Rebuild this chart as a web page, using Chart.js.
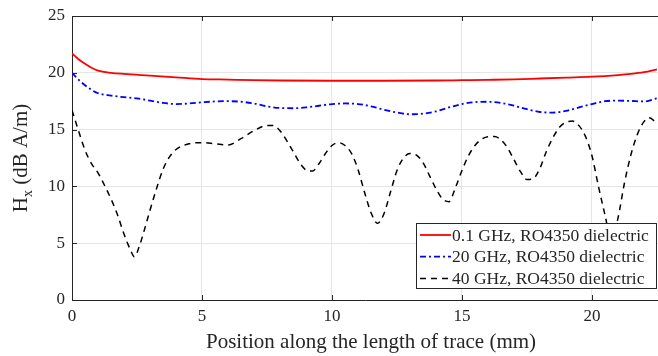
<!DOCTYPE html>
<html>
<head>
<meta charset="utf-8">
<script src="https://cdn.jsdelivr.net/npm/chart.js@4/dist/chart.umd.min.js"></script>
<style>
html,body{margin:0;padding:0;background:#fff;}
#wrap{width:658px;height:356px;position:relative;}
</style>
</head>
<body>
<div id="wrap"><canvas id="c" width="658" height="356"></canvas></div>
<script>
const seriesLabels = ["0.1 GHz, RO4350 dielectric", "20 GHz, RO4350 dielectric", "40 GHz, RO4350 dielectric"];
const xTitle = "Position along the length of trace (mm)";
const xTickValues = [0, 5, 10, 15, 20];
const yTickValues = [0, 5, 10, 15, 20, 25];

const xRed = [0,0.25,0.5,0.75,1,1.5,2,3,4,5,6,7,8,10,12,14,15,16,17,18,19,20,21,21.5,22,22.5];
const yRed = [21.7,21.2,20.8,20.45,20.2,20.0,19.9,19.75,19.6,19.45,19.4,19.35,19.32,19.3,19.3,19.32,19.35,19.38,19.42,19.5,19.58,19.66,19.8,19.9,20.05,20.3];

const xBlue = [0,0.25,0.5,0.75,1,1.5,2,2.5,3,3.5,4,4.5,5,5.5,6,6.5,7,7.5,8,8.5,9,9.5,10,10.5,11,11.5,12,12.5,13,13.5,14,14.5,15,15.5,16,16.5,17,17.5,18,18.5,19,19.5,20,20.5,21,21.5,22,22.5];
const yBlue = [20.0,19.4,18.9,18.5,18.2,18.0,17.85,17.75,17.55,17.35,17.25,17.3,17.4,17.48,17.5,17.45,17.3,17.05,16.9,16.88,16.95,17.1,17.25,17.3,17.25,17.05,16.75,16.5,16.35,16.4,16.6,16.95,17.25,17.42,17.45,17.35,17.1,16.8,16.55,16.5,16.65,16.95,17.25,17.5,17.55,17.52,17.48,17.75];

const xBlack = [0,0.25,0.5,0.75,1,1.25,1.5,1.75,2,2.25,2.4,2.6,2.8,3,3.25,3.5,3.75,4,4.5,5,5.5,6,6.5,7,7.5,7.75,8,8.5,8.75,9,9.25,9.5,9.75,10,10.25,10.5,10.75,11,11.25,11.5,11.75,12,12.25,12.5,12.75,13,13.25,13.5,13.75,14,14.25,14.5,14.75,15,15.25,15.5,15.75,16,16.25,16.5,16.75,17,17.25,17.5,17.75,18,18.25,18.5,18.75,19,19.25,19.5,19.75,20,20.25,20.5,20.75,21,21.25,21.5,21.75,22,22.2,22.5];
const yBlack = [16.7,14.9,13.2,12.0,11.2,10.1,8.9,7.5,5.8,4.4,3.8,4.8,6.3,7.9,9.8,11.5,12.6,13.25,13.75,13.85,13.75,13.65,14.2,14.9,15.35,15.35,14.9,13.1,12.1,11.45,11.35,12.0,12.9,13.6,13.85,13.6,12.9,11.5,9.5,7.7,6.75,7.6,9.5,11.4,12.5,12.9,12.75,12.1,10.95,9.8,8.9,8.65,9.9,11.4,12.7,13.6,14.15,14.38,14.4,14.1,13.4,12.35,11.3,10.6,10.7,11.6,13.1,14.3,15.2,15.65,15.75,15.35,14.4,12.7,10.0,7.5,5.2,7.2,10.3,12.8,14.6,15.7,16.05,15.55];

function pts(xs, ys){ return xs.map((x,i)=>({x:x, y:ys[i]})); }

const FONT = "'Liberation Serif', 'Times New Roman', serif";
const AXC = '#262626';

const framePlugin = {
  id: 'frame',
  afterDraw(chart){
    const ctx = chart.ctx, a = chart.chartArea;
    const xs = chart.scales.x, ys = chart.scales.y;
    ctx.save();
    ctx.strokeStyle = AXC; ctx.lineWidth = 1;
    ctx.beginPath(); ctx.moveTo(a.left, a.top + 0.5); ctx.lineTo(a.right, a.top + 0.5); ctx.stroke();
    const L = 5;
    xs.ticks.forEach(t => {
      const px = Math.round(xs.getPixelForValue(t.value)) + 0.5;
      ctx.beginPath(); ctx.moveTo(px, a.bottom); ctx.lineTo(px, a.bottom - L); ctx.stroke();
      ctx.beginPath(); ctx.moveTo(px, a.top); ctx.lineTo(px, a.top + L); ctx.stroke();
    });
    ys.ticks.forEach(t => {
      const py = Math.round(ys.getPixelForValue(t.value)) + 0.5;
      ctx.beginPath(); ctx.moveTo(a.left, py); ctx.lineTo(a.left + L, py); ctx.stroke();
    });
    // y title: H_x (dB A/m)
    ctx.fillStyle = AXC;
    ctx.translate(21, (a.top + a.bottom) / 2);
    ctx.rotate(-Math.PI / 2);
    const f1 = "21px " + FONT, f2 = "14px " + FONT;
    ctx.font = f1; const wH = ctx.measureText("H").width;
    ctx.font = f2; const wx = ctx.measureText("x").width;
    ctx.font = f1; const wr = ctx.measureText(" (dB A/m)").width;
    const tot = wH + wx + wr;
    let x0 = -tot / 2;
    ctx.textBaseline = 'middle'; ctx.textAlign = 'left';
    ctx.font = f1; ctx.fillText("H", x0, 0);
    ctx.font = f2; ctx.fillText("x", x0 + wH, 7);
    ctx.font = f1; ctx.fillText(" (dB A/m)", x0 + wH + wx, 0);
    ctx.restore();

    // x title
    ctx.save();
    ctx.fillStyle = AXC; ctx.font = "21px " + FONT;
    ctx.textAlign = 'center'; ctx.textBaseline = 'middle';
    ctx.fillText(xTitle, 371, 342);
    ctx.restore();

    // legend
    ctx.save();
    const bx1 = 416, by1 = a.bottom - 77, bx2 = a.right - 1, by2 = a.bottom - 11;
    ctx.fillStyle = '#fff';
    ctx.fillRect(bx1, by1, bx2 - bx1, by2 - by1);
    ctx.strokeStyle = AXC; ctx.lineWidth = 1;
    ctx.strokeRect(bx1 + 0.5, by1 + 0.5, bx2 - bx1 - 1, by2 - by1 - 1);
    ctx.font = "17.5px " + FONT; ctx.textBaseline = 'middle'; ctx.textAlign = 'left';
    chart.data.datasets.forEach((ds, i) => {
      const yy = by1 + 12 + i * 21.7;
      ctx.save();
      ctx.strokeStyle = ds.borderColor; ctx.lineWidth = ds.borderWidth;
      ctx.setLineDash(ds.borderDash || []);
      ctx.beginPath(); ctx.moveTo(bx1 + 4, yy); ctx.lineTo(bx1 + 35, yy); ctx.stroke();
      ctx.restore();
      ctx.fillStyle = AXC;
      ctx.fillText(ds.label, bx1 + 36, yy + 1);
    });
    ctx.restore();
  }
};

new Chart(document.getElementById('c'), {
  type: 'line',
  data: {
    datasets: [
      { label: seriesLabels[0], data: pts(xRed, yRed), borderColor: '#ff0000', borderWidth: 1.8, pointRadius: 0, cubicInterpolationMode: 'monotone', fill: false },
      { label: seriesLabels[1], data: pts(xBlue, yBlue), borderColor: '#0000ff', borderWidth: 1.8, borderDash: [6,3,2,3], pointRadius: 0, cubicInterpolationMode: 'monotone', fill: false },
      { label: seriesLabels[2], data: pts(xBlack, yBlack), borderColor: '#000000', borderWidth: 1.5, borderDash: [6,5], pointRadius: 0, cubicInterpolationMode: 'monotone', fill: false }
    ]
  },
  options: {
    responsive: false,
    animation: false,
    layout: { padding: { top: 16, right: 0, left: 0, bottom: 0 } },
    plugins: { legend: { display: false }, tooltip: { enabled: false } },
    scales: {
      x: {
        type: 'linear', min: 0, max: 22.54,
        afterBuildTicks(s){ s.ticks = xTickValues.map(v => ({ value: v })); },
        ticks: { color: AXC, font: { family: FONT, size: 17 }, padding: 6, maxRotation: 0, autoSkip: false },
        grid: { color: '#e6e6e6', drawTicks: false },
        border: { display: true, color: AXC, width: 1 },
        afterFit(s){ s.height = 56; s.paddingRight = 0; s.paddingLeft = 0; }
      },
      y: {
        min: 0, max: 25,
        afterBuildTicks(s){ s.ticks = yTickValues.map(v => ({ value: v })); },
        ticks: { color: AXC, font: { family: FONT, size: 17 }, padding: 7 },
        grid: { color: '#e6e6e6', drawTicks: false },
        border: { display: true, color: AXC, width: 1 },
        afterFit(s){ s.width = 72; s.paddingTop = 0; s.paddingBottom = 0; }
      }
    }
  },
  plugins: [framePlugin]
});
</script>
</body>
</html>
